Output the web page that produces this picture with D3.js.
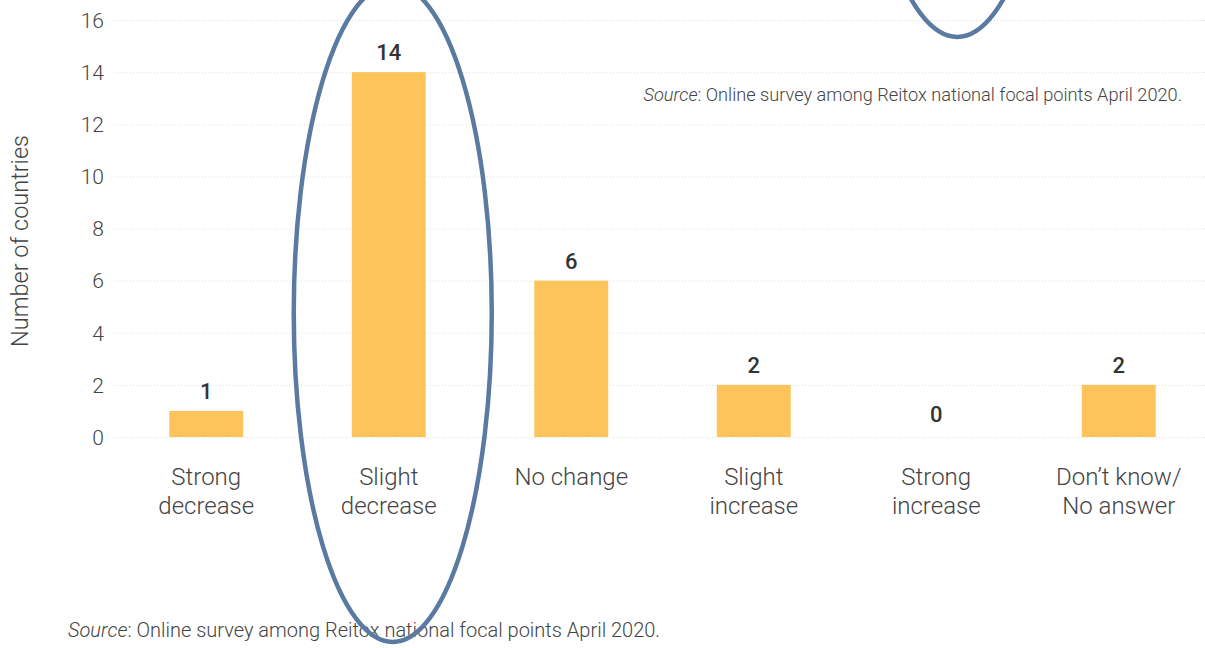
<!DOCTYPE html>
<html>
<head>
<meta charset="utf-8">
<script src="https://cdn.jsdelivr.net/npm/d3@7"></script>
<style>
  html, body { margin: 0; padding: 0; background: #fff; }
  svg { display: block; font-family: Roboto, "Open Sans", sans-serif; }
</style>
</head>
<body>
<svg id="chart" width="1205" height="648"></svg>
<script>
const categories = ["Strong decrease", "Slight decrease", "No change", "Slight increase", "Strong increase", "Don\u2019t know/ No answer"];
const categoryLines = [["Strong", "decrease"], ["Slight", "decrease"], ["No change"], ["Slight", "increase"], ["Strong", "increase"], ["Don\u2019t know/", "No answer"]];
const values = [1, 14, 6, 2, 0, 2];
const yTicks = [0, 2, 4, 6, 8, 10, 12, 14, 16];
const yTitle = "Number of countries";
const sourceLabel = "Source";
const sourceText = ": Online survey among Reitox national focal points April 2020.";
const highlighted = ["Slight decrease"];

const svg = d3.select("#chart");
const x = d3.scaleBand().domain(categories).range([115, 1210]).paddingInner(0.595).paddingOuter(0.2975);
const y = d3.scaleLinear().domain([0, 16]).range([437, 20]);

// gridlines
svg.append("g").selectAll("line").data(yTicks).join("line")
  .attr("x1", 115).attr("x2", 1205)
  .attr("y1", d => y(d) + 0.5).attr("y2", d => y(d) + 0.5)
  .attr("stroke", "#dedede").attr("stroke-width", 1).attr("stroke-dasharray", "1,2");

// y axis
const yAxis = svg.append("g").attr("transform", "translate(115,0)")
  .call(d3.axisLeft(y).tickValues(yTicks).tickSize(0).tickPadding(11));
yAxis.select(".domain").remove();
yAxis.selectAll("text").attr("font-size", 21).attr("fill", "#444").attr("font-family", "Roboto, sans-serif").attr("font-weight", 300).attr("dy", "0.35em");

svg.append("text")
  .attr("transform", "translate(28,241) rotate(-90)")
  .attr("text-anchor", "middle").attr("font-size", 23.5).attr("font-weight", 300).attr("fill", "#444")
  .text(yTitle);

// bars
svg.append("g").selectAll("rect").data(values).join("rect")
  .attr("x", (d, i) => x(categories[i]))
  .attr("width", x.bandwidth())
  .attr("y", d => y(d))
  .attr("height", d => y(0) - y(d))
  .attr("fill", "#fcc45a");

// value labels
svg.append("g").selectAll("text").data(values).join("text")
  .attr("x", (d, i) => x(categories[i]) + x.bandwidth() / 2)
  .attr("y", d => y(d) - (d === 0 ? 15 : 12))
  .attr("text-anchor", "middle").attr("font-size", 22).attr("font-weight", 500).attr("fill", "#333")
  .text(d => d);

// x category labels
const xl = svg.append("g").selectAll("text").data(categories).join("text")
  .attr("text-anchor", "middle").attr("font-size", 24).attr("font-weight", 300).attr("fill", "#444");
xl.each(function(c, i) {
  const t = d3.select(this);
  categoryLines[i].forEach((ln, j) => {
    t.append("tspan").attr("x", x(c) + x.bandwidth() / 2).attr("y", 485 + j * 29).text(ln);
  });
});

// sources
const s1 = svg.append("text").attr("x", 1182).attr("y", 101).attr("text-anchor", "end")
  .attr("font-size", 18.2).attr("font-weight", 300).attr("fill", "#444");
s1.append("tspan").attr("font-style", "italic").text(sourceLabel);
s1.append("tspan").text(sourceText);

const s2 = svg.append("text").attr("x", 68).attr("y", 637)
  .attr("font-size", 20).attr("font-weight", 300).attr("fill", "#444");
s2.append("tspan").attr("font-style", "italic").text(sourceLabel);
s2.append("tspan").text(sourceText);

// highlight ellipses
svg.append("g").selectAll("ellipse").data(highlighted).join("ellipse")
  .attr("cx", d => x(d) + x.bandwidth() / 2 + 4)
  .attr("cy", 313)
  .attr("rx", 99).attr("ry", 329)
  .attr("fill", "none").attr("stroke", "#5a7aa2").attr("stroke-width", 4.5);

svg.append("ellipse")
  .attr("cx", x("Strong increase") + x.bandwidth() / 2 + 21)
  .attr("cy", -292).attr("rx", 99).attr("ry", 329)
  .attr("fill", "none").attr("stroke", "#5a7aa2").attr("stroke-width", 4.5);
</script>
</body>
</html>
